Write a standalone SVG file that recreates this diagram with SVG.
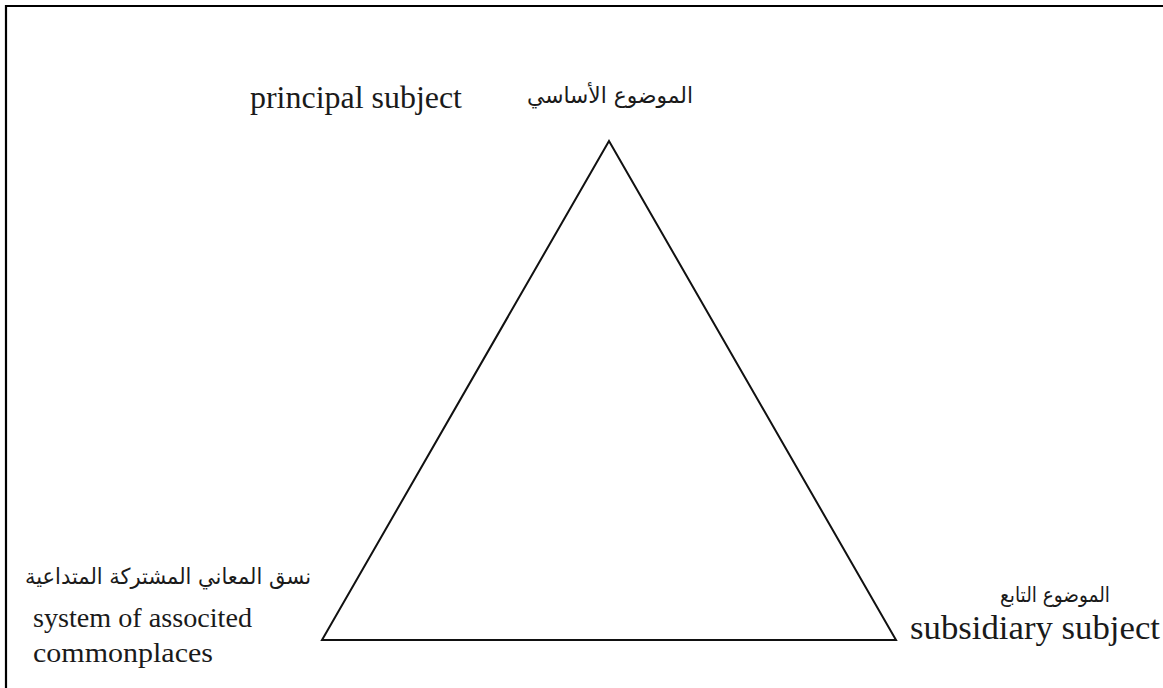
<svg xmlns="http://www.w3.org/2000/svg" width="1163" height="688" viewBox="0 0 1163 688">
<style>
.en{font-family:"Liberation Serif","DejaVu Serif",serif;fill:#1a1a1a}
.ar{font-family:"DejaVu Sans","Noto Sans",sans-serif;fill:#1a1a1a}
.edge{fill:none;stroke:#111;stroke-width:2}
</style>
<rect width="1163" height="688" fill="#fff"/>
<path d="M6,688 V6 H1163" fill="none" stroke="#000" stroke-width="2.2"/>
<g id="connectors">
<path class="edge" d="M609,141 L322,640 L896,640 Z" stroke-linejoin="miter"/>
</g>
<g id="node-principal">
<text class="en" x="250" y="108" font-size="31" textLength="212" lengthAdjust="spacingAndGlyphs">principal subject</text>
<text class="ar" x="610" y="103" font-size="22" text-anchor="middle" direction="rtl" textLength="166" lengthAdjust="spacingAndGlyphs">الموضوع الأساسي</text>
</g>
<g id="node-system">
<text class="ar" x="168" y="584" font-size="22" text-anchor="middle" direction="rtl" textLength="286" lengthAdjust="spacingAndGlyphs">نسق المعاني المشتركة المتداعية</text>
<text class="en" x="33" y="627" font-size="28" textLength="219" lengthAdjust="spacingAndGlyphs">system of associted</text>
<text class="en" x="33" y="662" font-size="28" textLength="180" lengthAdjust="spacingAndGlyphs">commonplaces</text>
</g>
<g id="node-subsidiary">
<text class="ar" x="1055" y="602" font-size="21" text-anchor="middle" direction="rtl" textLength="110" lengthAdjust="spacingAndGlyphs">الموضوع التابع</text>
<text class="en" x="910" y="639" font-size="33" textLength="250" lengthAdjust="spacingAndGlyphs">subsidiary subject</text>
</g>
</svg>
